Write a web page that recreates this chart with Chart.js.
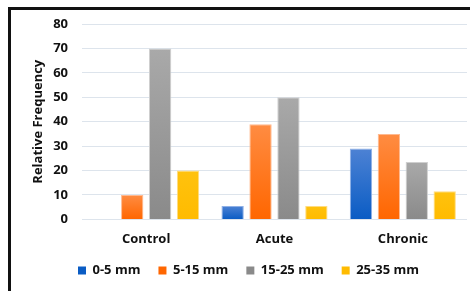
<!DOCTYPE html>
<html>
<head>
<meta charset="utf-8">
<script src="https://cdn.jsdelivr.net/npm/chart.js@4"></script>
<style>
  html, body { margin: 0; padding: 0; background: #fff; }
  #wrap { width: 470px; height: 291px; }
</style>
</head>
<body>
<div id="wrap"><canvas id="freqChart" width="470" height="291"></canvas></div>
<script>
/* ====== data ===== */
const groups = ['Control', 'Acute', 'Chronic'];
const sizeLabels = ['0-5 mm', '5-15 mm', '15-25 mm', '25-35 mm'];
const size0to5 = [0, 5.5, 29];
const size5to15 = [10, 39, 35];
const size15to25 = [70, 50, 23.5];
const size25to35 = [20, 5.5, 11.5];
const yTicks = [0, 10, 20, 30, 40, 50, 60, 70, 80];

// light (top) and dark (bottom) shades for each series
const topColors = ['#4d82d4', '#ff8c42', '#a9a9a9', '#ffc20e'];
const bottomColors = ['#0a5cc4', '#ff6600', '#8a8a8a', '#ffbb00'];
const edgeColors = ['#8fb0e6', '#ffb98f', '#cfcfcf', '#ffdc80'];

const fontFamily = "'Open Sans', 'Liberation Sans', sans-serif";

function barGradient(i) {
    return function (ctx) {
        const chart = ctx.chart;
        if (!chart.chartArea || ctx.parsed === undefined) return topColors[i];
        const y = chart.scales.y;
        const top = y.getPixelForValue(ctx.parsed.y);
        const bottom = y.getPixelForValue(0);
        if (bottom - top < 1) return topColors[i];
        const g = chart.ctx.createLinearGradient(0, top, 0, bottom);
        g.addColorStop(0, topColors[i]);
        g.addColorStop(1, bottomColors[i]);
        return g;
    };
}

const seriesValues = [size0to5, size5to15, size15to25, size25to35];

const freqData = {
    labels: groups,
    datasets: seriesValues.map((vals, i) => ({
        label: sizeLabels[i],
        data: vals,
        backgroundColor: barGradient(i),
        borderColor: edgeColors[i],
        borderWidth: 1,
        categoryPercentage: 0.87,
        barPercentage: 0.8,
    }))
};

/* ====== frame around the figure ===== */
const framePlugin = {
    id: 'frame',
    beforeDraw(chart) {
        const c = chart.ctx;
        c.save();
        c.fillStyle = '#fff';
        c.fillRect(0, 0, chart.width, chart.height);
        c.fillStyle = '#111';
        c.fillRect(8, 7, 3, chart.height - 7);
        c.fillRect(8, 7, chart.width - 8, 3);
        c.restore();
    }
};

const freqConfig = {
    type: 'bar',
    data: freqData,
    plugins: [framePlugin],
    options: {
        responsive: false,
        animation: false,
        layout: {
            padding: { left: 30, right: 3, top: 24, bottom: 4 }
        },
        scales: {
            x: {
                grid: { display: false, drawTicks: false },
                border: { display: false },
                afterFit(scale) {
                    scale.height -= 13;
                },
                ticks: {
                    color: '#111',
                    padding: 12,
                    font: { family: fontFamily, size: 13, weight: 'bold' }
                }
            },
            y: {
                min: 0,
                max: 80,
                afterBuildTicks(scale) {
                    scale.ticks = yTicks.map(v => ({ value: v }));
                },
                afterFit(scale) {
                    scale.width = 52;
                },
                grid: { color: '#dde4ec', lineWidth: 1, drawTicks: false },
                border: { display: false },
                ticks: {
                    color: '#111',
                    padding: 14,
                    font: { family: fontFamily, size: 13, weight: 'bold' }
                },
                title: {
                    display: true,
                    text: 'Relative Frequency',
                    color: '#111',
                    padding: { top: 0, bottom: 0 },
                    font: { family: fontFamily, size: 13, weight: 'bold' }
                }
            }
        },
        plugins: {
            legend: {
                display: true,
                position: 'bottom',
                labels: {
                    color: '#111',
                    boxWidth: 8,
                    boxHeight: 8,
                    padding: 18,
                    font: { family: fontFamily, size: 13, weight: 'bold' },
                    generateLabels(chart) {
                        return sizeLabels.map((t, i) => ({
                            text: t,
                            fillStyle: bottomColors[i],
                            strokeStyle: bottomColors[i],
                            lineWidth: 0,
                            datasetIndex: i,
                            fontColor: '#111'
                        }));
                    }
                }
            },
            tooltip: { enabled: false }
        }
    }
};

const freqChart = new Chart(
    document.querySelector('#freqChart'),
    freqConfig
);
</script>
</body>
</html>
